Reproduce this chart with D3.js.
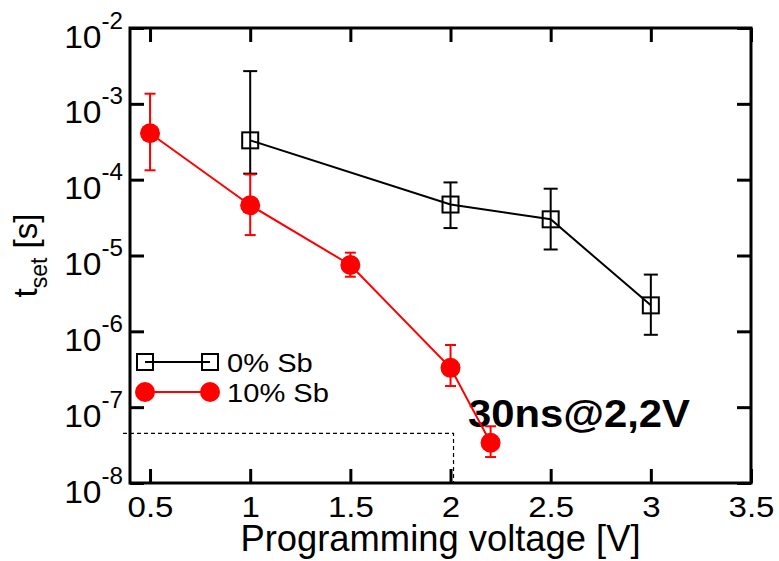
<!DOCTYPE html>
<html>
<head>
<meta charset="utf-8">
<script src="https://cdn.jsdelivr.net/npm/d3@7"></script>
<style>
  body { margin: 0; background: #fff; }
  svg text { font-family: "Liberation Sans", Arial, sans-serif; fill: #000; }
</style>
</head>
<body>
<div id="chart"></div>
<script>
// ---- data ----
const xTicks = [0.5, 1, 1.5, 2, 2.5, 3, 3.5];
const yTicks = [1e-2, 1e-3, 1e-4, 1e-5, 1e-6, 1e-7, 1e-8];
const yTickExp = ["-2", "-3", "-4", "-5", "-6", "-7", "-8"];

// 0% Sb (open squares, black)
const voltage0 = [1.0, 2.0, 2.5, 3.0];
const tset0 = [3.3e-4, 4.7e-5, 3.0e-5, 2.2e-6];
const err0Lo = [1.2e-4, 2.3e-5, 1.2e-5, 9.0e-7];
const err0Hi = [2.7e-3, 9.2e-5, 7.6e-5, 5.6e-6];

// 10% Sb (filled circles, red)
const voltage10 = [0.5, 1.0, 1.5, 2.0, 2.2];
const tset10 = [4.1e-4, 4.6e-5, 7.5e-6, 3.3e-7, 3.4e-8];
const err10Lo = [1.33e-4, 1.86e-5, 5.25e-6, 1.9e-7, 2.2e-8];
const err10Hi = [1.36e-3, 1.17e-4, 1.09e-5, 6.6e-7, 5.6e-8];

// dashed guide (30 ns level up to 2 V)
const guideX = [0.365, 2.015];
const guideY = 4.5e-8;

const seriesNames = ["0% Sb", "10% Sb"];

// ---- layout ----
const W = 779, H = 561;
const margin = {top: 28, right: 28, bottom: 78, left: 130};
const width = W - margin.left - margin.right;
const height = H - margin.top - margin.bottom;

const svg = d3.select("#chart").append("svg")
    .attr("width", W).attr("height", H);
const g = svg.append("g")
    .attr("transform", "translate(" + margin.left + "," + margin.top + ")");

const x = d3.scaleLinear().domain([0.4, 3.5]).range([0, width]);
const y = d3.scaleLog().domain([1e-8, 1e-2]).range([height, 0]);

// dashed guide
g.append("path")
    .attr("d", d3.line()([
        [x(guideX[0]), y(guideY)],
        [x(guideX[1]), y(guideY)],
        [x(guideX[1]), y(1e-8)]
    ]))
    .attr("fill", "none").attr("stroke", "#000")
    .attr("stroke-width", 1.2).attr("stroke-dasharray", "4,3");

// axes, ticks inward on all sides
function styleAxis(sel){
    sel.select(".domain").remove();
    sel.selectAll(".tick line").attr("stroke", "#000").attr("stroke-width", 3);
}
const tk = 14;
g.append("g").attr("transform", "translate(0," + height + ")")
    .call(d3.axisBottom(x).tickValues(xTicks).tickSizeInner(-tk).tickSizeOuter(0)
        .tickFormat(d3.format("~g")))
    .call(styleAxis)
    .call(s => s.selectAll(".tick text")
        .attr("y", 34).attr("dy", 0)
        .attr("font-size", 30)
        .attr("transform", "scale(1.1,1)"));
g.append("g")
    .call(d3.axisTop(x).tickValues(xTicks).tickSizeInner(-tk).tickSizeOuter(0).tickFormat(""))
    .call(styleAxis);
const yAxis = g.append("g")
    .call(d3.axisLeft(y).tickValues(yTicks).tickSizeInner(-tk).tickSizeOuter(0).tickFormat(""))
    .call(styleAxis);
g.append("g").attr("transform", "translate(" + width + ",0)")
    .call(d3.axisRight(y).tickValues(yTicks).tickSizeInner(-tk).tickSizeOuter(0).tickFormat(""))
    .call(styleAxis);

yAxis.selectAll(".tick").each(function(d, i){
    const t = d3.select(this).append("text")
        .attr("text-anchor", "end")
        .attr("transform", "translate(-7,19) scale(1.05,1)");
    t.append("tspan").attr("font-size", 32).text("10");
    t.append("tspan").attr("font-size", 23).attr("dy", -19).text(yTickExp[i]);
});

// frame
g.append("rect")
    .attr("width", width).attr("height", height)
    .attr("fill", "none").attr("stroke", "#000").attr("stroke-width", 3);

// annotation
g.append("text")
    .attr("transform", "translate(" + (468 - margin.left) + "," + (427 - margin.top) + ") scale(1.1,1)")
    .attr("font-size", 38).attr("font-weight", "bold")
    .text("30ns@2,2V");

// series drawing
function drawErr(xs, ys, lo, hi, color, cap){
    const gg = g.append("g").attr("stroke", color).attr("stroke-width", 2);
    xs.forEach(function(v, i){
        const cx = x(v);
        gg.append("line").attr("x1", cx).attr("x2", cx).attr("y1", y(lo[i])).attr("y2", y(hi[i]));
        gg.append("line").attr("x1", cx - cap/2).attr("x2", cx + cap/2).attr("y1", y(lo[i])).attr("y2", y(lo[i]));
        gg.append("line").attr("x1", cx - cap/2).attr("x2", cx + cap/2).attr("y1", y(hi[i])).attr("y2", y(hi[i]));
    });
}
function drawLine(xs, ys, color){
    g.append("path")
        .attr("d", d3.line().x((d, i) => x(xs[i])).y(d => y(d))(ys))
        .attr("fill", "none").attr("stroke", color).attr("stroke-width", 2);
}

// 0% Sb
drawErr(voltage0, tset0, err0Lo, err0Hi, "#000", 14);
drawLine(voltage0, tset0, "#000");
g.selectAll(".sq").data(tset0).enter().append("rect")
    .attr("x", (d, i) => x(voltage0[i]) - 8).attr("y", d => y(d) - 8)
    .attr("width", 16).attr("height", 16)
    .attr("fill", "none").attr("stroke", "#000").attr("stroke-width", 2);

// 10% Sb
drawErr(voltage10, tset10, err10Lo, err10Hi, "#ff0000", 11);
drawLine(voltage10, tset10, "#ff0000");
g.selectAll(".dot").data(tset10).enter().append("circle")
    .attr("cx", (d, i) => x(voltage10[i])).attr("cy", d => y(d))
    .attr("r", 10).attr("fill", "#ff0000");

// legend
const lg = svg.append("g");
const legY = [362, 392];
lg.append("line").attr("x1", 145).attr("x2", 210).attr("y1", legY[0]).attr("y2", legY[0])
    .attr("stroke", "#000").attr("stroke-width", 2);
[145, 210].forEach(function(cx){
    lg.append("rect").attr("x", cx - 8).attr("y", legY[0] - 8).attr("width", 16).attr("height", 16)
        .attr("fill", "none").attr("stroke", "#000").attr("stroke-width", 2);
});
lg.append("line").attr("x1", 145).attr("x2", 210).attr("y1", legY[1]).attr("y2", legY[1])
    .attr("stroke", "#ff0000").attr("stroke-width", 2);
[145, 210].forEach(function(cx){
    lg.append("circle").attr("cx", cx).attr("cy", legY[1]).attr("r", 10).attr("fill", "#ff0000");
});
seriesNames.forEach(function(name, i){
    lg.append("text")
        .attr("transform", "translate(227," + (legY[i] + 9.5) + ") scale(1.12,1)")
        .attr("font-size", 26).text(name);
});

// axis titles
svg.append("text")
    .attr("transform", "translate(" + (margin.left + width / 2) + ",551) scale(1.01,1)")
    .attr("text-anchor", "middle").attr("font-size", 36)
    .text("Programming voltage [V]");

const yl = svg.append("text")
    .attr("transform", "translate(37," + (margin.top + height / 2) + ") rotate(-90)")
    .attr("text-anchor", "middle").attr("font-size", 33);
yl.append("tspan").text("t");
yl.append("tspan").attr("font-size", 23).attr("dy", 10).text("set");
yl.append("tspan").attr("dy", -10).text(" [s]");
</script>
</body>
</html>
